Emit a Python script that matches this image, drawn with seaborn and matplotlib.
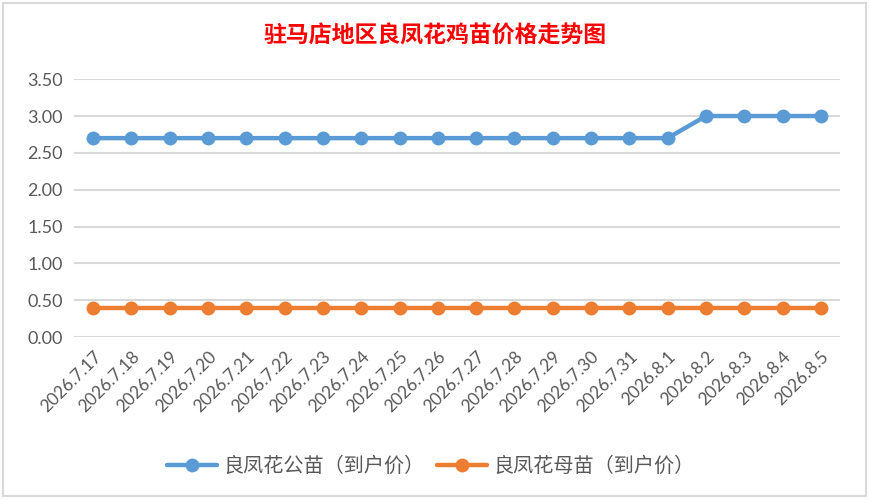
import pandas as pd
import numpy as np
import seaborn as sns
import matplotlib.pyplot as plt
from matplotlib.patches import Rectangle

sns.set_theme(style="white")
plt.rcParams['font.family'] = ['Lato', 'Noto Sans CJK SC', 'DejaVu Sans']

dates = ['2026.7.17', '2026.7.18', '2026.7.19', '2026.7.20', '2026.7.21', '2026.7.22',
         '2026.7.23', '2026.7.24', '2026.7.25', '2026.7.26', '2026.7.27', '2026.7.28',
         '2026.7.29', '2026.7.30', '2026.7.31', '2026.8.1', '2026.8.2', '2026.8.3',
         '2026.8.4', '2026.8.5']
male_price = [2.7] * 16 + [3.0] * 4
female_price = [0.4] * 20
series_names = ['良凤花公苗（到户价）', '良凤花母苗（到户价）']
title = '驻马店地区良凤花鸡苗价格走势图'
yticks = [0.0, 0.5, 1.0, 1.5, 2.0, 2.5, 3.0, 3.5]

df = pd.DataFrame({
    'date': dates * 2,
    'price': male_price + female_price,
    'series': [series_names[0]] * len(dates) + [series_names[1]] * len(dates),
})

fig = plt.figure(figsize=(8.7, 5.01), dpi=100)
ax = fig.add_axes([0.085, 0.327, 0.8805, 0.515])

sns.lineplot(data=df, x='date', y='price', hue='series', sort=False,
             palette=['#5b9bd5', '#ed7d31'], marker='o', markersize=10,
             markeredgewidth=0, linewidth=3.2, ax=ax, legend=True)

n = len(dates)
ax.set_xlim(-0.5, n - 0.5)
ax.set_ylim(0, 3.5)
ax.set_yticks(yticks)
ax.set_yticklabels([f'{v:.2f}' for v in yticks], fontsize=13, color='#595959')
ax.set_xticks(range(n))
ax.set_xticklabels(dates, rotation=45, ha='right', rotation_mode='anchor',
                   fontsize=12.5, color='#595959')
ax.tick_params(axis='both', length=0, pad=8)
ax.yaxis.grid(True, color='#d9d9d9', linewidth=1.5)
ax.set_axisbelow(True)
for s in ax.spines.values():
    s.set_visible(False)
ax.set_xlabel('')
ax.set_ylabel('')

handles, labels = ax.get_legend_handles_labels()
ax.get_legend().remove()
fig.legend(handles, labels, loc='center', bbox_to_anchor=(0.495, 0.072), ncol=2,
           frameon=False, fontsize=14.5, labelcolor='#595959', handlelength=2.5,
           handletextpad=0.3, columnspacing=0.6)

fig.text(0.5, 0.93, title, ha='center', va='center', fontsize=16.5,
         fontweight='bold', color='red')

fig.patches.append(Rectangle((3 / 870, 5 / 501), 863 / 870, 493 / 501,
                             transform=fig.transFigure, fill=False,
                             edgecolor='#d9d9d9', linewidth=1.5))

fig.savefig('out.png', dpi=100)
